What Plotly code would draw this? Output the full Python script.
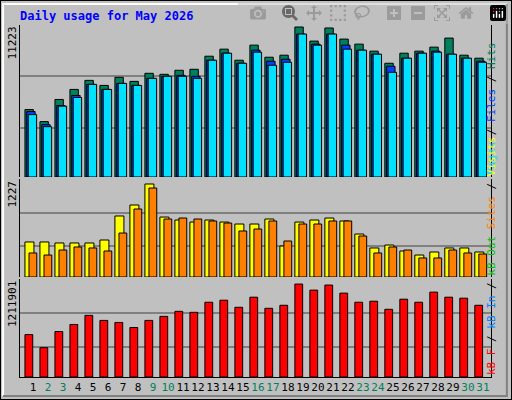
import plotly.graph_objects as go

days = list(range(1, 32))
weekend = {2, 3, 9, 10, 16, 17, 23, 24, 30, 31}

hits = [5047, 4143, 5800, 6553, 7231, 6854, 7457, 7155, 7758, 7683, 7984, 8059, 9038, 9566, 8737, 9867,
        8963, 9114, 11223, 10168, 11150, 10319, 9942, 9415, 8511, 9264, 9415, 9716, 10394, 9114, 8888]
files = [4896, 3917, 5348, 6101, 6929, 6553, 7005, 6854, 7381, 7532, 7607, 7532, 8737, 9264, 8511, 9490,
         8662, 8812, 10695, 9942, 10695, 9867, 9490, 9189, 8285, 8888, 9264, 9415, 9189, 8888, 8662]
pages = [4670, 3766, 5300, 5950, 6929, 6553, 7005, 6854, 7381, 7532, 7532, 7381, 8737, 9264, 8511, 9340,
         8360, 8586, 10695, 9867, 10695, 9566, 9490, 9189, 7833, 8888, 9264, 9340, 9189, 8888, 8586]
visits = [462, 462, 449, 449, 449, 488, 805, 950, 1227, 791, 752, 725, 752, 725, 699, 699,
          765, 409, 725, 752, 778, 739, 567, 383, 422, 343, 290, 330, 383, 383, 330]
sites = [317, 290, 356, 396, 383, 343, 580, 897, 1174, 765, 778, 765, 739, 712, 607, 633,
         739, 475, 699, 699, 739, 739, 541, 317, 396, 356, 251, 251, 356, 317, 303]
kbytes = [553266, 382017, 592785, 684996, 803553, 737688, 711342, 645477, 737688, 790380, 856245,
          843072, 974802, 1001148, 908937, 1040667, 895764, 935283, 1211901, 1132878, 1198743,
          1093359, 974802, 987975, 882591, 1014321, 974802, 1106532, 1040667, 1027494, 935283]

mono = "DejaVu Sans Mono"
fig = go.Figure()


def add_bar(vals, color, offset, width, yaxis):
    fig.add_trace(go.Bar(x=days, y=vals, offset=offset, width=width, yaxis=yaxis,
                         marker=dict(color=color, line=dict(color="black", width=1))))


add_bar(hits, "#00805c", -0.54, 0.56, "y")
add_bar(files, "#0040ff", -0.42, 0.56, "y")
add_bar(pages, "#00e0ff", -0.32, 0.56, "y")
add_bar(visits, "#ffff00", -0.54, 0.6, "y2")
add_bar(sites, "#ff8000", -0.27, 0.52, "y2")
add_bar(kbytes, "#ff0000", -0.54, 0.52, "y3")

ticktext = ["<span style='color:%s'>%d</span>" % ("#00805c" if d in weekend else "black", d) for d in days]
ax = dict(showgrid=True, gridcolor="#808080", gridwidth=1.5, showticklabels=False, zeroline=False,
          showline=True, linecolor="black", linewidth=1, mirror=True, ticks="", fixedrange=True)

fig.update_layout(
    width=512, height=400, margin=dict(l=0, r=0, t=0, b=0),
    paper_bgcolor="#c0c0c0", plot_bgcolor="#c0c0c0", showlegend=False, barmode="overlay",
    xaxis=dict(domain=[20 / 512, 491 / 512], range=[0.13, 31.54], anchor="y3", tickvals=days,
               ticktext=ticktext, tickangle=0, showgrid=False, zeroline=False, showline=True,
               linecolor="black", mirror=False, tickfont=dict(family=mono, size=11), ticks=""),
    yaxis=dict(ax, domain=[0.5575, 0.9375], range=[0, 11373], tickvals=[3691, 7532]),
    yaxis2=dict(ax, domain=[0.3075, 0.5525], range=[0, 1293], tickvals=[409, 844]),
    yaxis3=dict(ax, domain=[0.0575, 0.3025], range=[0, 1277781], tickvals=[395190, 829899]),
)

fig.add_annotation(text="<b>Daily usage for May 2026</b>", x=18 / 512, y=1 - 7 / 400, xref="paper",
                   yref="paper", xanchor="left", yanchor="top", showarrow=False,
                   font=dict(family=mono, size=12, color="#0000ff"))
for label, ytop in [("11223", 0.9375), ("1227", 0.5525), ("1211901", 0.3025)]:
    fig.add_annotation(text=label, x=12 / 512, y=ytop, xref="paper", yref="paper", textangle=-90,
                       xanchor="center", yanchor="top", showarrow=False,
                       font=dict(family=mono, size=11, color="black"))

fig.add_annotation(text="<span style='color:#00e0ff'>Pages</span> / <span style='color:#0040ff'>Files</span> / "
                        "<span style='color:#00805c'>Hits</span>",
                   x=500 / 512, y=0.5575, xref="paper", yref="paper", yanchor="bottom",
                   textangle=-90, showarrow=False, font=dict(family=mono, size=11, color="black"))
fig.add_annotation(text="<span style='color:#ff0000'>kB F</span> / <span style='color:#0080ff'>kB In</span> / "
                        "<span style='color:#00c000'>kB Out</span> <span style='color:#ff8000'>Sites</span> / "
                        "<span style='color:#ffff00'>Visits</span>",
                   x=500 / 512, y=0.0575, xref="paper", yref="paper", yanchor="bottom",
                   textangle=-90, showarrow=False, font=dict(family=mono, size=11, color="black"))

# bevelled outer border
fig.add_shape(type="rect", xref="paper", yref="paper", x0=0, y0=0, x1=1, y1=1,
              line=dict(color="black", width=2))
fig.add_shape(type="path", xref="paper", yref="paper", path="M 0.006 0.01 L 0.006 0.99 L 0.99 0.99",
              line=dict(color="white", width=2))
fig.add_shape(type="path", xref="paper", yref="paper", path="M 0.006 0.01 L 0.99 0.01 L 0.99 0.99",
              line=dict(color="#808080", width=2))

fig.write_html("out.html", post_script="document.body.style.margin='0';document.body.style.overflow='hidden';")
